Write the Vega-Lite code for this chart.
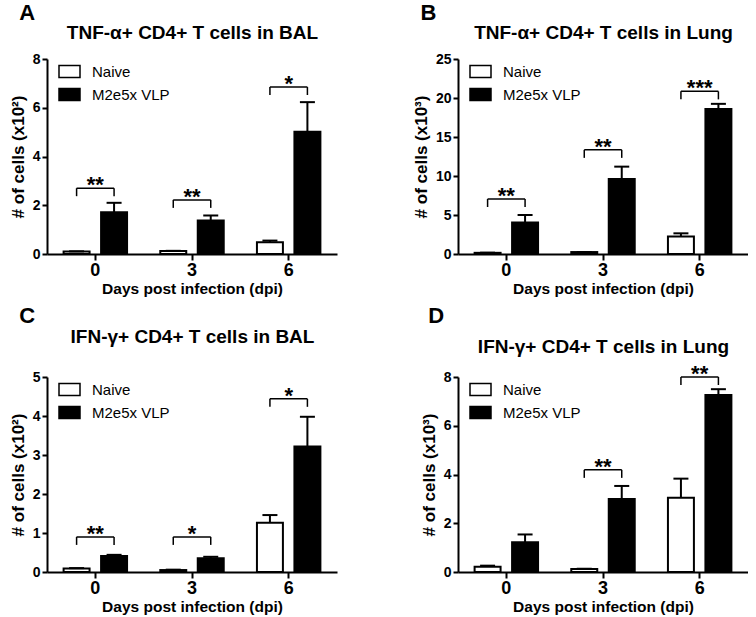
{
  "$schema": "https://vega.github.io/schema/vega-lite/v6.json",
  "padding": {"left": 9, "top": 2, "right": 0, "bottom": 0},
  "config": {
    "font": "Liberation Sans",
    "view": {"stroke": null},
    "axis": {"domainColor": "black", "domainWidth": 2, "tickColor": "black", "tickWidth": 2, "grid": false, "labelColor": "black", "labelFontWeight": "bold", "titleColor": "black", "titleFontWeight": "bold"},
    "axisY": {"labelFontSize": 14, "tickSize": 5, "labelPadding": 2, "titleFontSize": 17, "titlePadding": 5},
    "axisX": {"labelFontSize": 18, "labelAngle": 0, "tickSize": 6, "labelPadding": 1, "titleFontSize": 15.5, "titlePadding": 2},
    "title": {"color": "black", "fontSize": 22, "fontWeight": "bold", "anchor": "start", "frame": "bounds"},
    "legend": {"title": null, "orient": "none", "legendX": 11, "legendY": 1, "padding": 0, "symbolType": "M-1,-0.5714L1,-0.5714L1,0.5714L-1,0.5714Z", "symbolSize": 441, "symbolStrokeColor": "black", "symbolStrokeWidth": 1.5, "labelFontSize": 15, "labelColor": "black", "labelOffset": 11, "rowPadding": 2}
  },
  "datasets": {
    "bars": [
      {"panel": "A", "day": 0, "group": "Naive", "mean": 0.10, "upper": 0.11},
      {"panel": "A", "day": 0, "group": "M2e5x VLP", "mean": 1.71, "upper": 2.10},
      {"panel": "A", "day": 3, "group": "Naive", "mean": 0.12, "upper": 0.13},
      {"panel": "A", "day": 3, "group": "M2e5x VLP", "mean": 1.37, "upper": 1.58},
      {"panel": "A", "day": 6, "group": "Naive", "mean": 0.48, "upper": 0.55},
      {"panel": "A", "day": 6, "group": "M2e5x VLP", "mean": 5.02, "upper": 6.23},
      {"panel": "B", "day": 0, "group": "Naive", "mean": 0.15, "upper": 0.17},
      {"panel": "B", "day": 0, "group": "M2e5x VLP", "mean": 4.05, "upper": 5.0},
      {"panel": "B", "day": 3, "group": "Naive", "mean": 0.25, "upper": 0.27},
      {"panel": "B", "day": 3, "group": "M2e5x VLP", "mean": 9.6, "upper": 11.2},
      {"panel": "B", "day": 6, "group": "Naive", "mean": 2.25, "upper": 2.65},
      {"panel": "B", "day": 6, "group": "M2e5x VLP", "mean": 18.6, "upper": 19.25},
      {"panel": "C", "day": 0, "group": "Naive", "mean": 0.09, "upper": 0.10},
      {"panel": "C", "day": 0, "group": "M2e5x VLP", "mean": 0.41, "upper": 0.44},
      {"panel": "C", "day": 3, "group": "Naive", "mean": 0.05, "upper": 0.06},
      {"panel": "C", "day": 3, "group": "M2e5x VLP", "mean": 0.35, "upper": 0.39},
      {"panel": "C", "day": 6, "group": "Naive", "mean": 1.26, "upper": 1.46},
      {"panel": "C", "day": 6, "group": "M2e5x VLP", "mean": 3.22, "upper": 3.98},
      {"panel": "D", "day": 0, "group": "Naive", "mean": 0.22, "upper": 0.26},
      {"panel": "D", "day": 0, "group": "M2e5x VLP", "mean": 1.22, "upper": 1.54},
      {"panel": "D", "day": 3, "group": "Naive", "mean": 0.12, "upper": 0.13},
      {"panel": "D", "day": 3, "group": "M2e5x VLP", "mean": 2.99, "upper": 3.53},
      {"panel": "D", "day": 6, "group": "Naive", "mean": 3.05, "upper": 3.83},
      {"panel": "D", "day": 6, "group": "M2e5x VLP", "mean": 7.26, "upper": 7.50}
    ],
    "sig": [
      {"panel": "A", "day": 0, "level": 2.70, "label": "**"},
      {"panel": "A", "day": 3, "level": 2.22, "label": "**"},
      {"panel": "A", "day": 6, "level": 6.85, "label": "*"},
      {"panel": "B", "day": 0, "level": 7.05, "label": "**"},
      {"panel": "B", "day": 3, "level": 13.35, "label": "**"},
      {"panel": "B", "day": 6, "level": 20.85, "label": "***"},
      {"panel": "C", "day": 0, "level": 0.90, "label": "**"},
      {"panel": "C", "day": 3, "level": 0.90, "label": "*"},
      {"panel": "C", "day": 6, "level": 4.44, "label": "*"},
      {"panel": "D", "day": 3, "level": 4.19, "label": "**"},
      {"panel": "D", "day": 6, "level": 8.00, "label": "**"}
    ]
  },
  "columns": 2,
  "spacing": {"column": 75, "row": 8},
  "resolve": {"scale": {"fill": "independent", "xOffset": "independent"}},
  "concat": [
    {
      "title": {"text": "A", "dx": 10, "offset": -2},
      "width": 290, "height": 195,
      "resolve": {"axis": {"x": "independent"}},
      "layer": [
        {"data": {"name": "bars"}, "transform": [{"filter": "datum.panel === 'A'"}],
         "mark": {"type": "bar", "stroke": "black", "strokeWidth": 2},
         "encoding": {
           "x": {"field": "day", "type": "ordinal", "scale": {"paddingInner": 0, "paddingOuter": 0}, "axis": {"title": "Days post infection (dpi)"}},
           "xOffset": {"field": "group", "type": "nominal", "sort": ["Naive", "M2e5x VLP"], "scale": {"paddingInner": 0.307, "paddingOuter": 0.443}},
           "y": {"field": "mean", "type": "quantitative", "scale": {"domain": [0, 8], "nice": false}, "axis": {"values": [0, 2, 4, 6, 8], "title": "# of cells (x10²)"}},
           "fill": {"field": "group", "type": "nominal", "sort": ["Naive", "M2e5x VLP"], "scale": {"domain": ["Naive", "M2e5x VLP"], "range": ["white", "black"]}}
         }},
        {"data": {"name": "bars"}, "transform": [{"filter": "datum.panel === 'A'"}],
         "mark": {"type": "rule", "strokeWidth": 2, "color": "black"},
         "encoding": {
           "x": {"field": "day", "type": "ordinal", "axis": null},
           "xOffset": {"field": "group", "type": "nominal", "sort": ["Naive", "M2e5x VLP"]},
           "y": {"field": "mean", "type": "quantitative", "scale": {"domain": [0, 8], "nice": false}, "axis": {"values": [0, 2, 4, 6, 8], "title": "# of cells (x10²)"}},
           "y2": {"field": "upper"}
         }},
        {"data": {"name": "bars"}, "transform": [{"filter": "datum.panel === 'A'"}],
         "mark": {"type": "tick", "thickness": 2, "size": 15, "color": "black", "opacity": 1},
         "encoding": {
           "x": {"field": "day", "type": "ordinal", "axis": null},
           "xOffset": {"field": "group", "type": "nominal", "sort": ["Naive", "M2e5x VLP"]},
           "y": {"field": "upper", "type": "quantitative", "scale": {"domain": [0, 8], "nice": false}, "axis": {"values": [0, 2, 4, 6, 8], "title": "# of cells (x10²)"}}
         }},
        {"data": {"name": "sig"}, "transform": [{"filter": "datum.panel === 'A'"}],
         "mark": {"type": "tick", "thickness": 1.5, "size": 37.5, "color": "black", "opacity": 1},
         "encoding": {
           "x": {"field": "day", "type": "ordinal", "axis": null},
           "y": {"field": "level", "type": "quantitative", "scale": {"domain": [0, 8], "nice": false}, "axis": {"values": [0, 2, 4, 6, 8], "title": "# of cells (x10²)"}}
         }},
        {"data": {"name": "sig"}, "transform": [{"filter": "datum.panel === 'A'"}],
         "mark": {"type": "rule", "strokeWidth": 1.5, "color": "black", "y2Offset": 8},
         "encoding": {
           "x": {"field": "day", "type": "ordinal", "axis": null},
           "xOffset": {"datum": "Naive", "type": "nominal"},
           "y": {"field": "level", "type": "quantitative", "scale": {"domain": [0, 8], "nice": false}, "axis": {"values": [0, 2, 4, 6, 8], "title": "# of cells (x10²)"}},
           "y2": {"field": "level"}
         }},
        {"data": {"name": "sig"}, "transform": [{"filter": "datum.panel === 'A'"}],
         "mark": {"type": "rule", "strokeWidth": 1.5, "color": "black", "y2Offset": 8},
         "encoding": {
           "x": {"field": "day", "type": "ordinal", "axis": null},
           "xOffset": {"datum": "M2e5x VLP", "type": "nominal"},
           "y": {"field": "level", "type": "quantitative", "scale": {"domain": [0, 8], "nice": false}, "axis": {"values": [0, 2, 4, 6, 8], "title": "# of cells (x10²)"}},
           "y2": {"field": "level"}
         }},
        {"data": {"name": "sig"}, "transform": [{"filter": "datum.panel === 'A'"}],
         "mark": {"type": "text", "fontSize": 22, "fontWeight": "bold", "baseline": "alphabetic", "dy": 4, "color": "black"},
         "encoding": {
           "x": {"field": "day", "type": "ordinal", "axis": {"orient": "top", "title": "TNF-α+ CD4+ T cells in BAL", "titleFontSize": 19, "titlePadding": 17, "labels": false, "ticks": false, "domain": false}},
           "y": {"field": "level", "type": "quantitative", "scale": {"domain": [0, 8], "nice": false}, "axis": {"values": [0, 2, 4, 6, 8], "title": "# of cells (x10²)"}},
           "text": {"field": "label"}
         }}
      ]
    },
    {
      "title": {"text": "B", "dx": 8, "offset": -2},
      "width": 290, "height": 195,
      "resolve": {"axis": {"x": "independent"}},
      "layer": [
        {"data": {"name": "bars"}, "transform": [{"filter": "datum.panel === 'B'"}],
         "mark": {"type": "bar", "stroke": "black", "strokeWidth": 2},
         "encoding": {
           "x": {"field": "day", "type": "ordinal", "scale": {"paddingInner": 0, "paddingOuter": 0}, "axis": {"title": "Days post infection (dpi)"}},
           "xOffset": {"field": "group", "type": "nominal", "sort": ["Naive", "M2e5x VLP"], "scale": {"paddingInner": 0.307, "paddingOuter": 0.443}},
           "y": {"field": "mean", "type": "quantitative", "scale": {"domain": [0, 25], "nice": false}, "axis": {"values": [0, 5, 10, 15, 20, 25], "title": "# of cells (x10³)"}},
           "fill": {"field": "group", "type": "nominal", "sort": ["Naive", "M2e5x VLP"], "scale": {"domain": ["Naive", "M2e5x VLP"], "range": ["white", "black"]}}
         }},
        {"data": {"name": "bars"}, "transform": [{"filter": "datum.panel === 'B'"}],
         "mark": {"type": "rule", "strokeWidth": 2, "color": "black"},
         "encoding": {
           "x": {"field": "day", "type": "ordinal", "axis": null},
           "xOffset": {"field": "group", "type": "nominal", "sort": ["Naive", "M2e5x VLP"]},
           "y": {"field": "mean", "type": "quantitative", "scale": {"domain": [0, 25], "nice": false}, "axis": {"values": [0, 5, 10, 15, 20, 25], "title": "# of cells (x10³)"}},
           "y2": {"field": "upper"}
         }},
        {"data": {"name": "bars"}, "transform": [{"filter": "datum.panel === 'B'"}],
         "mark": {"type": "tick", "thickness": 2, "size": 15, "color": "black", "opacity": 1},
         "encoding": {
           "x": {"field": "day", "type": "ordinal", "axis": null},
           "xOffset": {"field": "group", "type": "nominal", "sort": ["Naive", "M2e5x VLP"]},
           "y": {"field": "upper", "type": "quantitative", "scale": {"domain": [0, 25], "nice": false}, "axis": {"values": [0, 5, 10, 15, 20, 25], "title": "# of cells (x10³)"}}
         }},
        {"data": {"name": "sig"}, "transform": [{"filter": "datum.panel === 'B'"}],
         "mark": {"type": "tick", "thickness": 1.5, "size": 37.5, "color": "black", "opacity": 1},
         "encoding": {
           "x": {"field": "day", "type": "ordinal", "axis": null},
           "y": {"field": "level", "type": "quantitative", "scale": {"domain": [0, 25], "nice": false}, "axis": {"values": [0, 5, 10, 15, 20, 25], "title": "# of cells (x10³)"}}
         }},
        {"data": {"name": "sig"}, "transform": [{"filter": "datum.panel === 'B'"}],
         "mark": {"type": "rule", "strokeWidth": 1.5, "color": "black", "y2Offset": 8},
         "encoding": {
           "x": {"field": "day", "type": "ordinal", "axis": null},
           "xOffset": {"datum": "Naive", "type": "nominal"},
           "y": {"field": "level", "type": "quantitative", "scale": {"domain": [0, 25], "nice": false}, "axis": {"values": [0, 5, 10, 15, 20, 25], "title": "# of cells (x10³)"}},
           "y2": {"field": "level"}
         }},
        {"data": {"name": "sig"}, "transform": [{"filter": "datum.panel === 'B'"}],
         "mark": {"type": "rule", "strokeWidth": 1.5, "color": "black", "y2Offset": 8},
         "encoding": {
           "x": {"field": "day", "type": "ordinal", "axis": null},
           "xOffset": {"datum": "M2e5x VLP", "type": "nominal"},
           "y": {"field": "level", "type": "quantitative", "scale": {"domain": [0, 25], "nice": false}, "axis": {"values": [0, 5, 10, 15, 20, 25], "title": "# of cells (x10³)"}},
           "y2": {"field": "level"}
         }},
        {"data": {"name": "sig"}, "transform": [{"filter": "datum.panel === 'B'"}],
         "mark": {"type": "text", "fontSize": 22, "fontWeight": "bold", "baseline": "alphabetic", "dy": 4, "color": "black"},
         "encoding": {
           "x": {"field": "day", "type": "ordinal", "axis": {"orient": "top", "title": "TNF-α+ CD4+ T cells in Lung", "titleFontSize": 19, "titlePadding": 17, "labels": false, "ticks": false, "domain": false}},
           "y": {"field": "level", "type": "quantitative", "scale": {"domain": [0, 25], "nice": false}, "axis": {"values": [0, 5, 10, 15, 20, 25], "title": "# of cells (x10³)"}},
           "text": {"field": "label"}
         }}
      ]
    },
    {
      "title": {"text": "C", "dx": 10, "offset": -1},
      "width": 290, "height": 195,
      "resolve": {"axis": {"x": "independent"}},
      "layer": [
        {"data": {"name": "bars"}, "transform": [{"filter": "datum.panel === 'C'"}],
         "mark": {"type": "bar", "stroke": "black", "strokeWidth": 2},
         "encoding": {
           "x": {"field": "day", "type": "ordinal", "scale": {"paddingInner": 0, "paddingOuter": 0}, "axis": {"title": "Days post infection (dpi)"}},
           "xOffset": {"field": "group", "type": "nominal", "sort": ["Naive", "M2e5x VLP"], "scale": {"paddingInner": 0.307, "paddingOuter": 0.443}},
           "y": {"field": "mean", "type": "quantitative", "scale": {"domain": [0, 5], "nice": false}, "axis": {"values": [0, 1, 2, 3, 4, 5], "title": "# of cells (x10²)"}},
           "fill": {"field": "group", "type": "nominal", "sort": ["Naive", "M2e5x VLP"], "scale": {"domain": ["Naive", "M2e5x VLP"], "range": ["white", "black"]}}
         }},
        {"data": {"name": "bars"}, "transform": [{"filter": "datum.panel === 'C'"}],
         "mark": {"type": "rule", "strokeWidth": 2, "color": "black"},
         "encoding": {
           "x": {"field": "day", "type": "ordinal", "axis": null},
           "xOffset": {"field": "group", "type": "nominal", "sort": ["Naive", "M2e5x VLP"]},
           "y": {"field": "mean", "type": "quantitative", "scale": {"domain": [0, 5], "nice": false}, "axis": {"values": [0, 1, 2, 3, 4, 5], "title": "# of cells (x10²)"}},
           "y2": {"field": "upper"}
         }},
        {"data": {"name": "bars"}, "transform": [{"filter": "datum.panel === 'C'"}],
         "mark": {"type": "tick", "thickness": 2, "size": 15, "color": "black", "opacity": 1},
         "encoding": {
           "x": {"field": "day", "type": "ordinal", "axis": null},
           "xOffset": {"field": "group", "type": "nominal", "sort": ["Naive", "M2e5x VLP"]},
           "y": {"field": "upper", "type": "quantitative", "scale": {"domain": [0, 5], "nice": false}, "axis": {"values": [0, 1, 2, 3, 4, 5], "title": "# of cells (x10²)"}}
         }},
        {"data": {"name": "sig"}, "transform": [{"filter": "datum.panel === 'C'"}],
         "mark": {"type": "tick", "thickness": 1.5, "size": 37.5, "color": "black", "opacity": 1},
         "encoding": {
           "x": {"field": "day", "type": "ordinal", "axis": null},
           "y": {"field": "level", "type": "quantitative", "scale": {"domain": [0, 5], "nice": false}, "axis": {"values": [0, 1, 2, 3, 4, 5], "title": "# of cells (x10²)"}}
         }},
        {"data": {"name": "sig"}, "transform": [{"filter": "datum.panel === 'C'"}],
         "mark": {"type": "rule", "strokeWidth": 1.5, "color": "black", "y2Offset": 8},
         "encoding": {
           "x": {"field": "day", "type": "ordinal", "axis": null},
           "xOffset": {"datum": "Naive", "type": "nominal"},
           "y": {"field": "level", "type": "quantitative", "scale": {"domain": [0, 5], "nice": false}, "axis": {"values": [0, 1, 2, 3, 4, 5], "title": "# of cells (x10²)"}},
           "y2": {"field": "level"}
         }},
        {"data": {"name": "sig"}, "transform": [{"filter": "datum.panel === 'C'"}],
         "mark": {"type": "rule", "strokeWidth": 1.5, "color": "black", "y2Offset": 8},
         "encoding": {
           "x": {"field": "day", "type": "ordinal", "axis": null},
           "xOffset": {"datum": "M2e5x VLP", "type": "nominal"},
           "y": {"field": "level", "type": "quantitative", "scale": {"domain": [0, 5], "nice": false}, "axis": {"values": [0, 1, 2, 3, 4, 5], "title": "# of cells (x10²)"}},
           "y2": {"field": "level"}
         }},
        {"data": {"name": "sig"}, "transform": [{"filter": "datum.panel === 'C'"}],
         "mark": {"type": "text", "fontSize": 22, "fontWeight": "bold", "baseline": "alphabetic", "dy": 4, "color": "black"},
         "encoding": {
           "x": {"field": "day", "type": "ordinal", "axis": {"orient": "top", "title": "IFN-γ+ CD4+ T cells in BAL", "titleFontSize": 19, "titlePadding": 31, "labels": false, "ticks": false, "domain": false}},
           "y": {"field": "level", "type": "quantitative", "scale": {"domain": [0, 5], "nice": false}, "axis": {"values": [0, 1, 2, 3, 4, 5], "title": "# of cells (x10²)"}},
           "text": {"field": "label"}
         }}
      ]
    },
    {
      "title": {"text": "D", "dx": 8, "offset": 9},
      "width": 290, "height": 195,
      "resolve": {"axis": {"x": "independent"}},
      "layer": [
        {"data": {"name": "bars"}, "transform": [{"filter": "datum.panel === 'D'"}],
         "mark": {"type": "bar", "stroke": "black", "strokeWidth": 2},
         "encoding": {
           "x": {"field": "day", "type": "ordinal", "scale": {"paddingInner": 0, "paddingOuter": 0}, "axis": {"title": "Days post infection (dpi)"}},
           "xOffset": {"field": "group", "type": "nominal", "sort": ["Naive", "M2e5x VLP"], "scale": {"paddingInner": 0.307, "paddingOuter": 0.443}},
           "y": {"field": "mean", "type": "quantitative", "scale": {"domain": [0, 8], "nice": false}, "axis": {"values": [0, 2, 4, 6, 8], "title": "# of cells (x10³)"}},
           "fill": {"field": "group", "type": "nominal", "sort": ["Naive", "M2e5x VLP"], "scale": {"domain": ["Naive", "M2e5x VLP"], "range": ["white", "black"]}}
         }},
        {"data": {"name": "bars"}, "transform": [{"filter": "datum.panel === 'D'"}],
         "mark": {"type": "rule", "strokeWidth": 2, "color": "black"},
         "encoding": {
           "x": {"field": "day", "type": "ordinal", "axis": null},
           "xOffset": {"field": "group", "type": "nominal", "sort": ["Naive", "M2e5x VLP"]},
           "y": {"field": "mean", "type": "quantitative", "scale": {"domain": [0, 8], "nice": false}, "axis": {"values": [0, 2, 4, 6, 8], "title": "# of cells (x10³)"}},
           "y2": {"field": "upper"}
         }},
        {"data": {"name": "bars"}, "transform": [{"filter": "datum.panel === 'D'"}],
         "mark": {"type": "tick", "thickness": 2, "size": 15, "color": "black", "opacity": 1},
         "encoding": {
           "x": {"field": "day", "type": "ordinal", "axis": null},
           "xOffset": {"field": "group", "type": "nominal", "sort": ["Naive", "M2e5x VLP"]},
           "y": {"field": "upper", "type": "quantitative", "scale": {"domain": [0, 8], "nice": false}, "axis": {"values": [0, 2, 4, 6, 8], "title": "# of cells (x10³)"}}
         }},
        {"data": {"name": "sig"}, "transform": [{"filter": "datum.panel === 'D'"}],
         "mark": {"type": "tick", "thickness": 1.5, "size": 37.5, "color": "black", "opacity": 1},
         "encoding": {
           "x": {"field": "day", "type": "ordinal", "axis": null},
           "y": {"field": "level", "type": "quantitative", "scale": {"domain": [0, 8], "nice": false}, "axis": {"values": [0, 2, 4, 6, 8], "title": "# of cells (x10³)"}}
         }},
        {"data": {"name": "sig"}, "transform": [{"filter": "datum.panel === 'D'"}],
         "mark": {"type": "rule", "strokeWidth": 1.5, "color": "black", "y2Offset": 8},
         "encoding": {
           "x": {"field": "day", "type": "ordinal", "axis": null},
           "xOffset": {"datum": "Naive", "type": "nominal"},
           "y": {"field": "level", "type": "quantitative", "scale": {"domain": [0, 8], "nice": false}, "axis": {"values": [0, 2, 4, 6, 8], "title": "# of cells (x10³)"}},
           "y2": {"field": "level"}
         }},
        {"data": {"name": "sig"}, "transform": [{"filter": "datum.panel === 'D'"}],
         "mark": {"type": "rule", "strokeWidth": 1.5, "color": "black", "y2Offset": 8},
         "encoding": {
           "x": {"field": "day", "type": "ordinal", "axis": null},
           "xOffset": {"datum": "M2e5x VLP", "type": "nominal"},
           "y": {"field": "level", "type": "quantitative", "scale": {"domain": [0, 8], "nice": false}, "axis": {"values": [0, 2, 4, 6, 8], "title": "# of cells (x10³)"}},
           "y2": {"field": "level"}
         }},
        {"data": {"name": "sig"}, "transform": [{"filter": "datum.panel === 'D'"}],
         "mark": {"type": "text", "fontSize": 22, "fontWeight": "bold", "baseline": "alphabetic", "dy": 4, "color": "black"},
         "encoding": {
           "x": {"field": "day", "type": "ordinal", "axis": {"orient": "top", "title": "IFN-γ+ CD4+ T cells in Lung", "titleFontSize": 19, "titlePadding": 21, "labels": false, "ticks": false, "domain": false}},
           "y": {"field": "level", "type": "quantitative", "scale": {"domain": [0, 8], "nice": false}, "axis": {"values": [0, 2, 4, 6, 8], "title": "# of cells (x10³)"}},
           "text": {"field": "label"}
         }}
      ]
    }
  ]
}
